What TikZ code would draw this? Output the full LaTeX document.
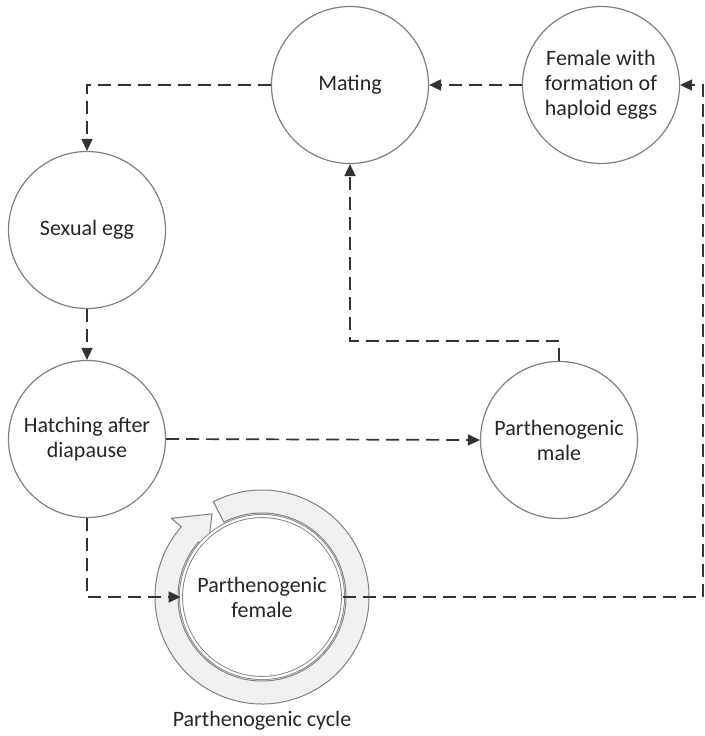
\documentclass[tikz,border=0pt]{standalone}
\usepackage{fontspec}
\setmainfont{Carlito}
\usetikzlibrary{arrows.meta,positioning}

\tikzset{
  stage/.style={circle, draw=black!50, line width=1.2pt, fill=white,
    minimum size=157pt, inner sep=0pt, align=center, text=black!85,
    font=\fontsize{22}{25}\selectfont},
  flow/.style={dash pattern=on 13pt off 7pt, line width=1.7pt, draw=black!80,
    -{Triangle[length=12pt,width=11pt]}},
}

\begin{document}
\begin{tikzpicture}[x=1pt,y=-1pt]
  \useasboundingbox (0,0) rectangle (704,736);

  % --- circular arrow round the parthenogenic female ---
  \begin{scope}[shift={(262,597)}, yscale=-1]
    \filldraw[fill=black!6, draw=black!50, line width=1pt]
      (117:107) arc[start angle=117, end angle=-221, radius=107]
      -- (139:120) -- (121:97) -- (139:72) -- (139:84)
      arc[start angle=-221, end angle=117, radius=84] -- cycle;
  \end{scope}

  % --- stages ---
  \node[stage] (mating) at (350,85) {Mating};
  \node[stage] (female) at (601,85) {Female with\\formation of\\haploid eggs};
  \node[stage] (segg) at (87,230) {Sexual egg};
  \node[stage] (hatch) at (87,439) {Hatching after\\diapause};
  \node[stage] (pmale) at (559,440) {Parthenogenic\\male};
  \node[stage, minimum size=162pt, line width=0.9pt, double=white,
    double distance=2.2pt] (pfemale) at (262,597) {Parthenogenic\\female};
  \node[text=black!85, font=\fontsize{22}{25}\selectfont] (cycle) at (262,721)
    {Parthenogenic cycle};

  % --- connectors ---
  \coordinate (edge) at (703,597);
  \draw[flow] (mating.west) -| (segg.north);
  \draw[flow] (female.west) -- (mating.east);
  \draw[flow] (segg.south) -- (hatch.north);
  \draw[flow] (hatch.east) -- (pmale.west);
  \draw[flow] (hatch.south) |- (pfemale.west);
  \draw[flow] (pmale.north) -- ++(0,-20) -| (mating.south);
  \draw[flow] (pfemale.east) -- (edge) |- (female.east);
\end{tikzpicture}
\end{document}
